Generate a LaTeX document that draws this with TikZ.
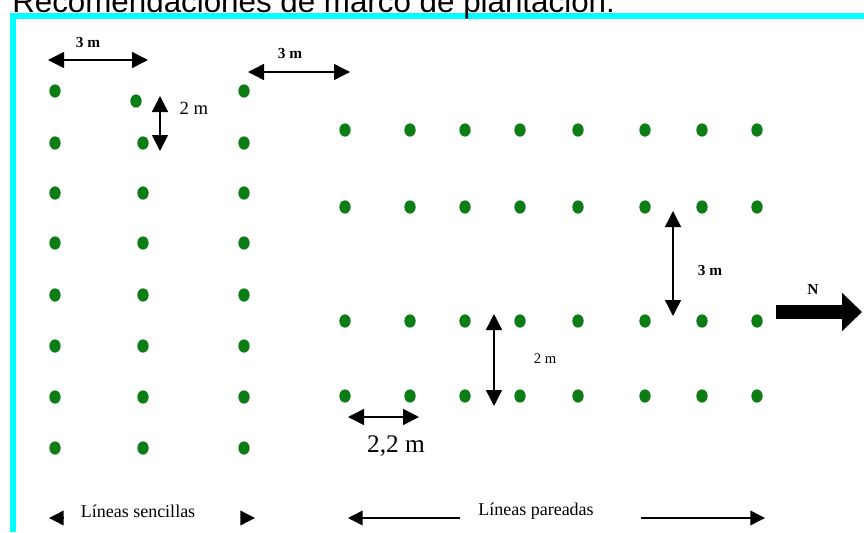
\documentclass[tikz,border=0pt]{standalone}
\usepackage{fontspec}
\setmainfont{Liberation Serif}
\newfontfamily\titlefont{Liberation Sans}
\usetikzlibrary{arrows.meta,shapes.geometric}

\definecolor{framecyan}{RGB}{0,255,255}
\definecolor{plantgreen}{RGB}{12,125,20}

\tikzset{
  plant/.style={ellipse,fill=plantgreen,inner sep=0pt,minimum width=8.5pt,minimum height=10pt},
  dimarrow/.style={line width=1.1pt,{Triangle[length=12pt,width=12pt]}-{Triangle[length=12pt,width=12pt]}},
  halfarrow/.style={line width=1.1pt,-{Triangle[length=11pt,width=11pt]}},
  boldlbl/.style={font=\fontsize{11.5}{13}\selectfont\bfseries,inner sep=1pt},
  plainlbl/.style={font=\fontsize{13.5}{15}\selectfont,inner sep=1pt}
}

\begin{document}
\begin{tikzpicture}[x=0.75pt,y=0.75pt,yscale=-1,xscale=1]
\useasboundingbox (0,0) rectangle (864,532);
\clip (0,0) rectangle (864,532);

%Shape: Frame
\fill[framecyan] (10,13) rectangle (864,19);
\fill[framecyan] (10,13) rectangle (16,532);

% Text Node
\node[anchor=base west,inner sep=0pt,font=\fontsize{23.5}{26}\titlefont] (title) at (12,12) {Recomendaciones de marco de plantación:};

%Shape: Plants, single lines
\foreach \r/\y in {1/91,2/143,3/193,4/243,5/295,6/346,7/397,8/448} {
  \node[plant] (s1-\r) at (55,\y) {};
  \node[plant] (s3-\r) at (244,\y) {};
}
\node[plant] (s2-1) at (136,101) {};
\foreach \r/\y in {2/143,3/193,4/243,5/295,6/346,7/397,8/448}
  \node[plant] (s2-\r) at (143,\y) {};

%Shape: Plants, paired lines
\foreach \c/\x in {1/345,2/410,3/465,4/520,5/578,6/645,7/702,8/757} {
  \node[plant] (p\c-1) at (\x,130) {};
  \node[plant] (p\c-2) at (\x,207) {};
  \node[plant] (p\c-3) at (\x,321) {};
  \node[plant] (p\c-4) at (\x,396) {};
}

%Straight Lines: distances
\coordinate (rowL) at (48,60);
\coordinate (rowR) at (148,60);
\draw[dimarrow] (rowL) -- (rowR);
\node[boldlbl] (lblrow) at (88,42) {3 m};

\coordinate (gapL) at (248,72);
\coordinate (gapR) at (350,72);
\draw[dimarrow] (gapL) -- (gapR);
\node[boldlbl] (lblgap) at (290,53) {3 m};

\coordinate (plantT) at (160,96);
\coordinate (plantB) at (160,151);
\draw[dimarrow] (plantT) -- (plantB);
\node[font=\fontsize{14}{16}\selectfont,inner sep=1pt] (lblplant) at (194,108) {2 m};

\coordinate (pairT) at (673,211);
\coordinate (pairB) at (673,316);
\draw[dimarrow] (pairT) -- (pairB);
\node[boldlbl] (lblpair) at (710,270) {3 m};

\coordinate (lineT) at (494,314);
\coordinate (lineB) at (494,406);
\draw[dimarrow] (lineT) -- (lineB);
\node[plainlbl,font=\fontsize{11}{13}\selectfont] (lblline) at (545,359) {2 m};

\coordinate (stepL) at (348,417);
\coordinate (stepR) at (419,417);
\draw[dimarrow] (stepL) -- (stepR);
\node[font=\fontsize{19}{22}\selectfont,inner sep=1pt] (lblstep) at (396,446) {2,2 m};

%Straight Lines: north
\coordinate (northA) at (776,312);
\coordinate (northB) at (862,312);
\draw[line width=10pt,-{Triangle[length=15pt,width=28pt]}] (northA) -- (northB);
\node[boldlbl] (lblnorth) at (813,289) {N};

%Straight Lines: bottom legend
\coordinate (sencA) at (63,518);
\coordinate (sencB) at (49,518);
\coordinate (sencC) at (241,518);
\coordinate (sencD) at (255,518);
\draw[halfarrow] (sencA) -- (sencB);
\draw[halfarrow] (sencC) -- (sencD);
\node[plainlbl] (lblsenc) at (138,511) {Líneas sencillas};

\coordinate (parA) at (460,518);
\coordinate (parB) at (348,518);
\coordinate (parC) at (641,518);
\coordinate (parD) at (765,518);
\draw[halfarrow] (parA) -- (parB);
\draw[halfarrow] (parC) -- (parD);
\node[plainlbl] (lblpar) at (536,511) {Líneas pareadas};

\end{tikzpicture}
\end{document}
